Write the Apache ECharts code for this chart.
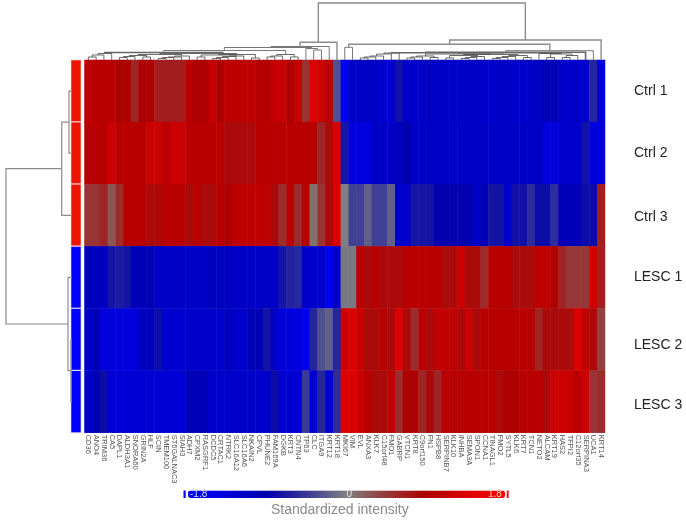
<!DOCTYPE html>
<html>
<head>
<meta charset="utf-8">
<script src="https://cdn.jsdelivr.net/npm/echarts@6/dist/echarts.min.js"></script>
<style>
  html, body { margin: 0; padding: 0; background: #fff; }
  #container-heatmap { width: 686px; height: 520px; }
</style>
</head>
<body>
<div id="container-heatmap"></div>
<script>
const genes = ['CD36','ANO4','TRIM36','CA5','DAPL1','ALDH3A1','SNORA60','GRIN2A','HLF','SCIN','TMEM100','ST6GALNAC3','SIAH3','ADH7','CPXM2','RASGRF1','DCDC5','CRTAC1','NTRK2','SLC16A12','SLC16A6','NKAIN2','CPVL','PHUNE2','FAM169A','DGKB','KRT3','CNTN4','TP63','CLC','ITGA9','KRT12','KRT18','MKI67','VIM','EVL','ANXA3','KLK7','C15orf48','FMO1','GABRP','VTCN1','KRT8','C9orf150','FN1','HSPB8','SERPINB7','KLK10','INHBA','SEMA3A','SPON1','CCNA1','TINAGL1','FMO2','SYTL5','KLK6','KRT7','TCN1','NETO2','ALCAM','KRT19','HAS2','TFPI2','C12orf35','SERPINA3','UCA1','KRT14'];
const samples = ['Ctrl 1','Ctrl 2','Ctrl 3','LESC 1','LESC 2','LESC 3'];
const sampleGroups = [1, 1, 1, -1, -1, -1];

const ctrl1 = [1.08,1.02,1.02,1.02,0.89,0.89,0.6,0.89,0.89,0.67,0.67,0.67,0.67,1.02,0.89,0.89,1.15,0.89,1.08,1.08,1.08,1.08,0.98,0.98,1.15,1.15,0.89,1.15,0.5,1.41,1.21,1.0,-0.3,
  -1.67,-1.16,-1.16,-1.16,-1.16,-1.26,-1.26,-0.76,-1.21,-1.21,-1.16,-1.1,-1.21,-1.16,-1.21,-1.21,-1.16,-1.16,-1.21,-1.21,-1.16,-1.16,-1.21,-1.21,-1.16,-1.16,-1.0,-1.0,-1.21,-1.21,-1.21,-1.21,-0.6,-1.41];
const ctrl2 = [1.02,1.02,1.02,1.21,1.02,1.02,1.02,1.02,1.21,1.21,1.02,1.21,1.21,1.02,1.02,1.02,1.02,1.02,0.82,0.82,0.82,0.82,1.02,1.02,1.02,1.02,1.02,1.02,1.02,1.02,0.6,0.82,1.41,
  -0.72,-1.41,-1.41,-1.41,-1.16,-1.16,-1.16,-1.08,-0.89,-1.16,-1.16,-1.16,-1.16,-1.16,-1.16,-1.16,-1.16,-1.16,-1.16,-1.16,-1.16,-1.16,-1.16,-1.16,-1.16,-1.16,-1.41,-1.41,-1.21,-1.21,-1.21,-0.76,-1.41,-1.41];
const ctrl3 = [0.48,0.48,0.6,0.27,0.54,1.02,1.02,1.02,0.82,0.82,1.02,1.02,1.02,0.82,1.02,0.82,0.82,1.02,0.89,1.08,1.08,1.08,1.08,1.08,0.82,0.55,1.02,0.55,1.02,0.1,0.5,0.82,1.41,
  0,-0.4,-0.4,-0.2,-0.4,-0.4,-0.2,-1.21,-1.21,-0.74,-0.74,-0.74,-0.89,-0.89,-0.89,-0.89,-0.89,-1.21,-1.0,-0.74,-0.74,-1.21,-0.76,-0.76,-0.55,-0.8,-0.8,-0.55,-1.0,-1.0,-1.0,-0.8,-0.8,0.65];
const lesc1 = [-1.08,-1.08,-1.08,-0.74,-0.68,-0.74,-1.0,-1.0,-1.0,-1.16,-1.16,-1.16,-1.16,-1.16,-1.16,-1.16,-1.08,-1.08,-1.08,-1.16,-1.16,-1.16,-1.16,-1.16,-1.16,-0.74,-0.62,-0.58,-1.21,-1.21,-1.21,-1.6,-1.21,
  -0.05,-0.05,1.02,0.82,1.02,0.82,0.82,0.82,1.02,1.02,1.02,1.02,1.02,0.82,0.82,1.21,0.82,0.82,0.55,1.02,1.02,1.02,0.82,0.82,0.82,1.08,1.08,0.89,0.6,0.45,0.45,0.45,1.21,0.65];
const lesc2 = [-1.16,-1.0,-1.41,-1.41,-1.41,-1.41,-1.41,-1.08,-1.08,-0.8,-1.26,-1.26,-1.26,-1.21,-1.21,-1.21,-1.21,-1.21,-1.08,-1.21,-1.21,-1.0,-1.0,-0.74,-1.16,-1.41,-1.41,-1.41,-1.6,-0.6,-0.3,-0.2,-0.6,
  1.21,1.41,1.21,0.82,0.82,1.02,0.82,1.41,0.82,0.54,1.02,0.82,1.15,1.1,1.1,0.82,1.21,0.82,1.02,1.02,1.02,1.02,1.02,1.02,1.02,0.6,0.82,0.82,0.82,0.82,1.41,1.08,0.82,0.4];
const lesc3 = [-1.16,-1.0,-0.8,-1.33,-1.33,-1.33,-1.33,-1.33,-1.33,-1.33,-1.33,-1.33,-1.33,-1.0,-1.0,-1.0,-1.21,-1.21,-1.21,-1.21,-1.21,-1.21,-1.21,-1.21,-0.8,-1.26,-1.26,-1.26,-0.44,-1.33,-0.6,-1.26,-0.55,
  1.41,1.41,1.21,1.02,0.82,0.82,1.08,0.54,0.89,0.89,0.6,0.82,0.6,1.02,1.02,1.02,1.02,1.02,1.02,1.02,0.82,0.89,0.89,1.02,1.02,1.02,0.82,1.21,1.21,1.21,1.02,1.21,0.48,0.54];
const rows = [ctrl1, ctrl2, ctrl3, lesc1, lesc2, lesc3];

const scaleColors = ['#0000ff','#0000d8','#0000ae','#383896','#808080','#963838','#ae0000','#d80000','#ff0000'];

// dendrogram merges: [pos1, height1, pos2, height2, height of the join]
const colMerges = [
  [0.5,0,1.5,0,3],[1,3,2.5,0,5],[1.75,5,3.5,0,6.5],
  [4.5,0,5.5,0,2.5],[5,2.5,6.5,0,3.5],[7.5,0,8.5,0,3],[5.75,3.5,8,3,4.5],
  [9.5,0,10.5,0,1.5],[10,1.5,11.5,0,2.5],[10.75,2.5,12.5,0,3],[11.6,3,13.5,0,4],[6.9,4.5,12.5,4,5.5],
  [14.5,0,15.5,0,3],[16.5,0,17.5,0,1.5],[17,1.5,18.5,0,2.5],[17.75,2.5,19.5,0,3.5],[18.6,3.5,20.5,0,4],
  [15,3,19.5,4,5],[21.5,0,22.5,0,2],[17.25,5,22,2,5.5],[9.7,5.5,19.6,5.5,6.5],
  [2.6,6.5,17.8,6.5,7.5],
  [23.5,0,24.5,0,3],[24,3,25.5,0,4],[26.5,0,27.5,0,3],[24.75,4,27,3,5.5],
  [10.2,7.5,25.9,5.5,9.5],
  [29.5,0,30.5,0,10],[28.5,0,30,10,11.5],[18,9.5,29.25,11.5,12.5],[24,12.5,31.5,0,13.5],[27.75,13.5,32.5,0,17.7],
  [33.5,0,34.5,0,12.7],
  [35.5,0,36.5,0,2],[36,2,37.5,0,3],[36.75,3,38.5,0,4],[37.6,4,39.5,0,6],[38.55,6,40.5,0,7],
  [41.5,0,42.5,0,2],[42,2,43.5,0,3],[44.5,0,45.5,0,2.5],[42.75,3,45,2.5,4],
  [46.5,0,47.5,0,2],[48.5,0,49.5,0,1.5],[49,1.5,50.5,0,2.5],[49.75,2.5,51.5,0,3.5],[47,2,50.6,3.5,4.5],
  [52.5,0,53.5,0,1.5],[53,1.5,54.5,0,2.5],[53.75,2.5,55.5,0,3.5],[56.5,0,57.5,0,2.5],[54.6,3.5,57,2.5,4.5],
  [48.8,4.5,55.8,4.5,5.5],[43.9,4,52.3,5.5,6],
  [59.5,0,60.5,0,2.5],[61.5,0,62.5,0,2.5],[62,2.5,63.5,0,4.5],[60,2.5,62.75,4.5,6],[58.5,0,61.4,6,6.5],
  [48.1,6,60,6.5,7],[39.5,7,54,7,7.3],[44,7.3,64.5,0,7.7],[54.25,7.7,65.5,0,9.3],[34,12.7,59.9,9.3,15.7],
  [47,15.7,66.5,0,20],[30.1,17.7,56.75,20,57]
];
const rowMerges = [
  [0.5,0,1.5,0,3],[1,3,2.5,0,10.3],
  [4.5,0,5.5,0,1],[3.5,0,5,1,4],
  [1.75,10.3,4.25,4,66]
];

const chartDom = document.getElementById('container-heatmap');
const myChart = echarts.init(chartDom);

let cells = [];
rows.forEach((row, r) => {
  row.forEach((v, c) => { cells.push([c, r, v]); });
});
const groupCells = sampleGroups.map((g, r) => [0, r, g]);

const mergeLineStyle = (h) => {
  if (h >= 15) return { color: '#8c8c8c', width: 1.4, opacity: 1 };
  if (h >= 7.2 && h < 8) return { color: '#666', width: 1.6, opacity: 1 };
  if (h >= 8) return { color: '#777', width: 1, opacity: 1 };
  return { color: '#444', width: 0.8, opacity: 1 };
};
const colLines = colMerges.map((m) => ({
  coords: [[m[0], m[1]], [m[0], m[4]], [m[2], m[4]], [m[2], m[3]]],
  lineStyle: mergeLineStyle(m[4])
}));
const rowLines = rowMerges.map((m) => ({
  coords: [[m[1], m[0]], [m[4], m[0]], [m[4], m[2]], [m[3], m[2]]],
  lineStyle: { color: '#8c8c8c', width: 1.2, opacity: 1 }
}));

const hiddenAxis = { show: false };

myChart.setOption({
  animation: false,
  backgroundColor: '#fff',
  textStyle: { fontFamily: 'Liberation Sans' },
  grid: [
    { left: 84.5, top: 60, width: 520.5, height: 372.7 },
    { left: 71, top: 60, width: 10, height: 372.7 },
    { left: 84.5, top: 0, width: 520.5, height: 60 },
    { left: 0, top: 60, width: 72, height: 372.7 }
  ],
  xAxis: [
    {
      gridIndex: 0, type: 'category', data: genes,
      axisLine: { show: false }, axisTick: { show: false }, splitArea: { show: false },
      axisLabel: { interval: 0, rotate: -90, fontSize: 7.5, color: '#555', margin: 2, fontFamily: 'Liberation Sans' }
    },
    { gridIndex: 1, type: 'category', data: ['group'], show: false },
    Object.assign({ gridIndex: 2, type: 'value', min: 0, max: 67 }, hiddenAxis),
    Object.assign({ gridIndex: 3, type: 'value', min: 0, max: 72, inverse: true }, hiddenAxis)
  ],
  yAxis: [
    {
      gridIndex: 0, type: 'category', inverse: true, position: 'right',
      data: samples,
      axisLine: { show: false }, axisTick: { show: false }, splitArea: { show: false },
      axisLabel: {
        fontSize: 14, color: '#222', margin: 29, fontFamily: 'Liberation Sans',
        // labels sit a little lower than the row middle in the lower rows
        formatter: (v, i) => '{r' + i + '|' + v + '}',
        rich: {
          r0: { padding: [0, 0, 0, 0] },
          r1: { padding: [0, 0, 0, 0] },
          r2: { padding: [4, 0, 0, 0] },
          r3: { padding: [0, 0, 0, 0] },
          r4: { padding: [12, 0, 0, 0] },
          r5: { padding: [6, 0, 0, 0] }
        }
      }
    },
    { gridIndex: 1, type: 'category', inverse: true, data: samples, show: false },
    Object.assign({ gridIndex: 2, type: 'value', min: 0, max: 60 }, hiddenAxis),
    Object.assign({ gridIndex: 3, type: 'value', min: 0, max: 6, inverse: true }, hiddenAxis)
  ],
  visualMap: [
    {
      type: 'continuous', seriesIndex: 0, min: -1.8, max: 1.8,
      orient: 'horizontal', left: 188, top: 490.5, padding: 0,
      itemWidth: 7.5, itemHeight: 317, calculable: false, hoverLink: false,
      showLabel: false, text: null,
      inRange: { color: scaleColors }
    },
    {
      type: 'piecewise', seriesIndex: 1, show: false,
      pieces: [{ value: 1, color: '#ee1500' }, { value: -1, color: '#0000ff' }]
    }
  ],
  series: [
    {
      type: 'heatmap', xAxisIndex: 0, yAxisIndex: 0, data: cells,
      progressive: 0, emphasis: { disabled: true }, silent: true
    },
    {
      type: 'heatmap', xAxisIndex: 1, yAxisIndex: 1, data: groupCells,
      itemStyle: { borderColor: '#fff', borderWidth: 1 },
      emphasis: { disabled: true }, silent: true
    },
    {
      type: 'lines', coordinateSystem: 'cartesian2d', xAxisIndex: 2, yAxisIndex: 2,
      polyline: true, data: colLines, silent: true, clip: false
    },
    {
      type: 'lines', coordinateSystem: 'cartesian2d', xAxisIndex: 3, yAxisIndex: 3,
      polyline: true, data: rowLines, silent: true, clip: false
    }
  ],
  graphic: [
    { type: 'rect', shape: { x: 183.5, y: 490.5, width: 2.2, height: 7.5 }, style: { fill: '#0000ff' } },
    { type: 'rect', shape: { x: 506.7, y: 490.5, width: 2, height: 7.5 }, style: { fill: '#e8101a' } },
    { type: 'text', z: 100, x: 190, y: 489.5, style: { text: '-1.8', fill: '#d8d8e8', font: '10px "Liberation Sans"' } },
    { type: 'text', z: 100, x: 346.5, y: 489.5, style: { text: '0', fill: '#e4e4e4', font: '10px "Liberation Sans"' } },
    { type: 'text', z: 100, x: 488, y: 489.5, style: { text: '1.8', fill: '#ead0d0', font: '10px "Liberation Sans"' } },
    { type: 'text', z: 100, x: 271, y: 503, style: { text: 'Standardized intensity', fill: '#8a8a8a', font: '14px "Liberation Sans"' } }
  ]
});
</script>
</body>
</html>
